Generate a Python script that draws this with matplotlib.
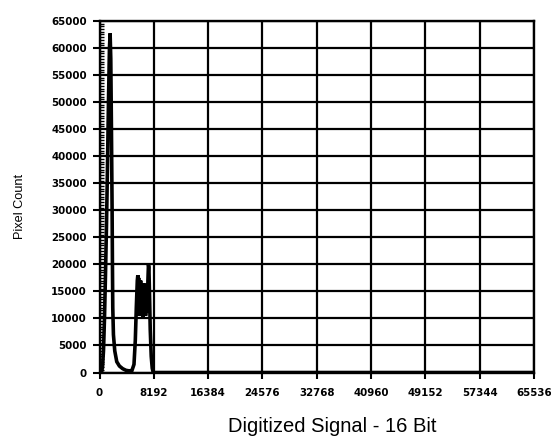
"""Scanned histogram: pixel count vs 16-bit digitized signal."""
import matplotlib

matplotlib.use("Agg")
import matplotlib.pyplot as plt
from matplotlib.ticker import MultipleLocator

# histogram (signal level, pixel count)
signal = [0, 300, 450, 600, 750, 900, 1050, 1200, 1350, 1500, 1600, 1700,
          1800, 1900, 1950, 2000, 2100, 2300, 2600, 3000, 3500, 4000, 4500,
          4900, 5200, 5400, 5550, 5700, 5780,
          5850, 5900, 5950, 6000, 6050, 6100, 6150, 6200, 6250, 6300, 6350,
          6400, 6450, 6500, 6550, 6600, 6650, 6700, 6750, 6800, 6850, 6900,
          6950, 7000, 7050, 7100, 7150, 7200, 7250, 7300,
          7380, 7450, 7550, 7650, 7800, 7950, 8100, 65536]
count = [0, 0, 1000, 4000, 10000, 18000, 27000, 38000, 50000, 60000, 62700, 58000,
         45000, 30000, 20000, 12000, 7000, 4000, 2000, 1200, 700, 400, 300,
         400, 1500, 6000, 12000, 17000, 18000,
         11000, 17500, 10500, 17000, 11500, 16500, 10500, 17000, 11000, 16000, 10500,
         16500, 11000, 16000, 10000, 16500, 11500, 15500, 10500, 16000, 11000, 15500,
         10500, 16000, 11500, 15000, 11000, 16500, 12000, 17000,
         19900, 19500, 14000, 8000, 3000, 800, 0, 0]

x_ticks = [0, 8192, 16384, 24576, 32768, 40960, 49152, 57344, 65536]
y_ticks = list(range(0, 65001, 5000))

fig = plt.figure(figsize=(5.51, 4.45), dpi=100)
ax = fig.add_axes([0.1806, 0.1629, 0.7886, 0.790])

ax.plot(signal, count, color="black", lw=2.6, solid_joinstyle="miter", zorder=3)

ax.set_xlim(0, 65536)
ax.set_ylim(0, 65000)
ax.set_xticks(x_ticks)
ax.set_yticks(y_ticks)
ax.yaxis.set_minor_locator(MultipleLocator(500))
ax.grid(True, which="major", color="black", lw=1.6)

tick_font = {"family": "DejaVu Sans", "weight": "bold", "size": 7.4}
ax.set_xticklabels([str(v) for v in x_ticks], fontdict=tick_font)
ax.set_yticklabels([str(v) for v in y_ticks], fontdict=tick_font)
ax.tick_params(axis="x", which="major", direction="out", length=4.5, width=1.5, pad=7)
ax.tick_params(axis="y", which="major", direction="out", length=5, width=1.5, pad=4)
ax.tick_params(axis="y", which="minor", direction="in", length=3, width=1.0)

for sp in ax.spines.values():
    sp.set_linewidth(1.7)
    sp.set_color("black")

fig.text(20 / 551, 1 - 206 / 445, "Pixel Count", rotation=90, ha="center", va="center",
         family="Liberation Sans", size=9.2)
fig.text(332 / 551, 1 - 427 / 445, "Digitized Signal - 16 Bit", ha="center", va="center",
         family="Liberation Sans", size=14.5)

fig.savefig("out.png", dpi=100, facecolor="white")
